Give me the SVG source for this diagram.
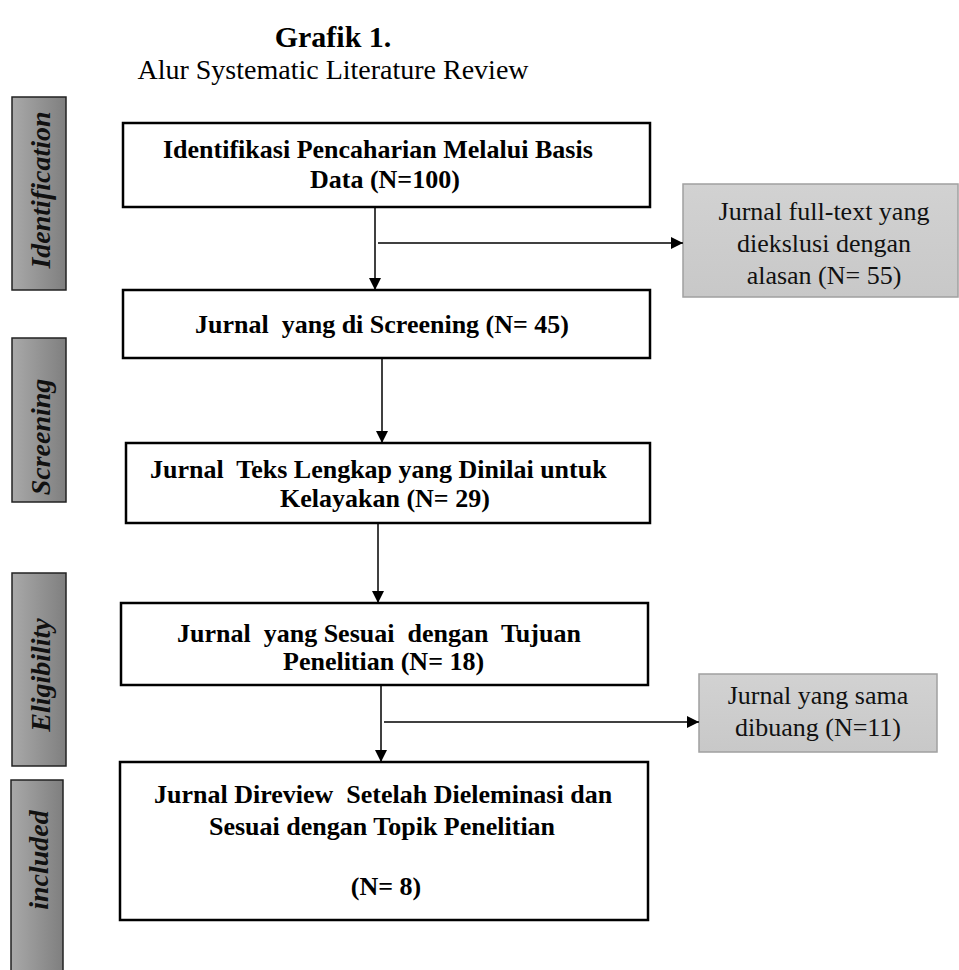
<svg xmlns="http://www.w3.org/2000/svg" width="959" height="970" viewBox="0 0 959 970">
<defs>
<linearGradient id="bar" x1="0" y1="0" x2="1" y2="0">
<stop offset="0" stop-color="#a9a9a9"/>
<stop offset="1" stop-color="#7f7f7f"/>
</linearGradient>
<linearGradient id="side" x1="0" y1="0" x2="0" y2="1">
<stop offset="0" stop-color="#d2d2d2"/>
<stop offset="1" stop-color="#c8c8c8"/>
</linearGradient>
<marker id="ah" viewBox="0 0 10 10" refX="10" refY="5" markerWidth="12" markerHeight="12" markerUnits="userSpaceOnUse" orient="auto">
<path d="M0,0 L10,5 L0,10 z" fill="#000"/>
</marker>
</defs>
<style>
.box{fill:#fff;stroke:#000;stroke-width:2.5}
.bar{fill:url(#bar);stroke:#222;stroke-width:1.5}
.side{fill:url(#side);stroke:#a0a0a0;stroke-width:1.5}
.bt{font-family:"Liberation Serif","Times New Roman",serif;font-weight:bold;font-size:26px;fill:#000}
.st{font-family:"Liberation Serif","Times New Roman",serif;font-size:26px;fill:#111;text-anchor:middle}
.lab{font-family:"Liberation Serif","Times New Roman",serif;font-weight:bold;font-style:italic;font-size:28px;fill:#111;text-anchor:middle}
.con{stroke:#000;stroke-width:1.5;fill:none}
</style>
<rect width="959" height="970" fill="#fff"/>
<g id="title">
<text x="333" y="47" style="font-family:'Liberation Serif',serif;font-weight:bold;font-size:30px;text-anchor:middle">Grafik 1.</text>
<text x="333" y="79" style="font-family:'Liberation Serif',serif;font-size:28px;text-anchor:middle">Alur Systematic Literature Review</text>
</g>
<g id="bar-identification"><rect class="bar" x="12" y="97" width="54" height="193"/><text class="lab" transform="translate(50,190) rotate(-90)">Identification</text></g>
<g id="bar-screening"><rect class="bar" x="12" y="338" width="54" height="164"/><text class="lab" transform="translate(50,437) rotate(-90)">Screening</text></g>
<g id="bar-eligibility"><rect class="bar" x="12" y="573" width="54" height="193"/><text class="lab" transform="translate(50,675) rotate(-90)">Eligibility</text></g>
<g id="bar-included"><rect class="bar" x="11" y="780" width="52" height="200"/><text class="lab" transform="translate(48,860) rotate(-90)">included</text></g>
<g id="node1"><rect class="box" x="123" y="123" width="527" height="84"/>
<text class="bt" x="163" y="158">Identifikasi Pencaharian Melalui Basis</text>
<text class="bt" x="310" y="188">Data (N=100)</text></g>
<g id="node2"><rect class="box" x="123" y="290" width="527" height="68"/>
<text class="bt" x="195" y="333" xml:space="preserve">Jurnal  yang di Screening (N= 45)</text></g>
<g id="node3"><rect class="box" x="126" y="443" width="524" height="80"/>
<text class="bt" x="150" y="478" xml:space="preserve">Jurnal  Teks Lengkap yang Dinilai untuk</text>
<text class="bt" x="280" y="507">Kelayakan (N= 29)</text></g>
<g id="node4"><rect class="box" x="121" y="603" width="527" height="82"/>
<text class="bt" x="177" y="642" xml:space="preserve">Jurnal  yang Sesuai  dengan  Tujuan</text>
<text class="bt" x="283" y="670">Penelitian (N= 18)</text></g>
<g id="node5"><rect class="box" x="120" y="762" width="528" height="158"/>
<text class="bt" x="154" y="803" xml:space="preserve">Jurnal Direview  Setelah Dieleminasi dan</text>
<text class="bt" x="209" y="835">Sesuai dengan Topik Penelitian</text>
<text class="bt" x="386" y="895" style="text-anchor:middle">(N= 8)</text></g>
<g id="excl1"><rect class="side" x="683" y="184" width="275" height="113"/>
<text class="st" x="824" y="220">Jurnal full-text yang</text>
<text class="st" x="824" y="252">diekslusi dengan</text>
<text class="st" x="824" y="284">alasan (N= 55)</text></g>
<g id="excl2"><rect class="side" x="699" y="674" width="238" height="78"/>
<text class="st" x="818" y="704">Jurnal yang sama</text>
<text class="st" x="818" y="736">dibuang (N=11)</text></g>
<g id="connectors">
<line class="con" x1="375" y1="207" x2="375" y2="290" marker-end="url(#ah)"/>
<line class="con" x1="378" y1="243" x2="683" y2="243" marker-end="url(#ah)"/>
<line class="con" x1="382" y1="358" x2="382" y2="443" marker-end="url(#ah)"/>
<line class="con" x1="378" y1="523" x2="378" y2="603" marker-end="url(#ah)"/>
<line class="con" x1="381" y1="685" x2="381" y2="762" marker-end="url(#ah)"/>
<line class="con" x1="384" y1="722" x2="699" y2="722" marker-end="url(#ah)"/>
</g>
</svg>
